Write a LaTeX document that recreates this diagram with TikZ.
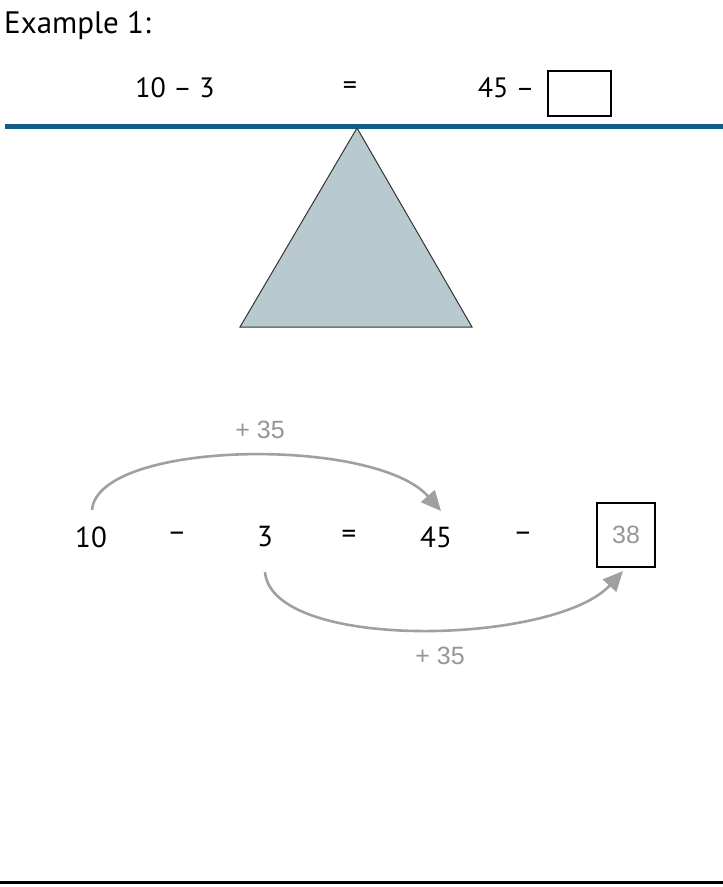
\documentclass[tikz,border=0pt]{standalone}
\usepackage{fontspec}
\setmainfont{PT Sans}
\newfontfamily\grayfont{Liberation Sans}
\usetikzlibrary{arrows.meta}
\definecolor{beam}{RGB}{18,94,136}
\definecolor{fulcrum}{RGB}{184,201,207}
\definecolor{arrowgray}{RGB}{160,160,160}
\definecolor{labelgray}{RGB}{150,150,150}
\tikzset{
  num/.style={font=\fontsize{29}{34}\selectfont, inner sep=0pt, anchor=center},
  toprow/.style={font=\fontsize{28}{33}\selectfont, inner sep=0pt, anchor=center},
  glabel/.style={font=\grayfont\fontsize{25}{30}\selectfont, text=labelgray, inner sep=0pt},
  answerbox/.style={draw=black, line width=2.2pt, minimum width=58pt, minimum height=64pt, inner sep=0pt},
  emptybox/.style={draw=black, line width=1.6pt, minimum width=63pt, minimum height=45pt, inner sep=0pt},
  jump/.style={draw=arrowgray, line width=2.6pt, -{Triangle[length=20pt,width=18pt]}},
}
\begin{document}
\begin{tikzpicture}[x=1pt,y=-1pt]
\useasboundingbox (0,0) rectangle (723,887);
% title
\node[font=\fontsize{31}{36}\selectfont, anchor=base west, inner sep=0pt] (title) at (4,33) {Example 1:};
% top equation
\node[toprow] (t1) at (175,88) {10 – 3};
\node[toprow] (teq) at (350,88) {=};
\node[toprow] (t45) at (506,88) {45 –};
\node[emptybox] (tbox) at (579.5,93.5) {};
% beam
\coordinate (bl) at (5,126);
\coordinate (br) at (723,126);
\draw[beam, line width=5pt] (bl) -- (br);
% fulcrum
\coordinate (apex) at (357,128);
\coordinate (baseL) at (240,327);
\coordinate (baseR) at (472,327);
\draw[fill=fulcrum, draw=black!80, line width=1pt, line join=miter] (apex) -- (baseL) -- (baseR) -- cycle;
% bottom equation
\node[num] (b10) at (91,537) {10};
\node[num] (bm1) at (177,537) {–};
\node[num] (b3) at (265,537) {3};
\node[num] (beq) at (349,537) {=};
\node[num] (b45) at (436,537) {45};
\node[num] (bm2) at (523,537) {–};
\node[answerbox] (bbox) at (626,535) {};
\node[glabel] (b38) at (bbox.center) {38};
% arcs
\coordinate (s1) at (92,510);
\coordinate (e1) at (441,511);
\coordinate (s2) at (265,572);
\coordinate (e2) at (623,571);
\draw[jump] (s1) .. controls (98,440) and (375,436) .. (e1);
\draw[jump] (s2) .. controls (272,652) and (555,645) .. (e2);
\node[glabel] (l1) at (260,430) {+ 35};
\node[glabel] (l2) at (440,656) {+ 35};
% bottom rule
\coordinate (rl) at (0,882);
\coordinate (rr) at (723,882);
\draw[black, line width=3pt] (rl) -- (rr);
\end{tikzpicture}
\end{document}
